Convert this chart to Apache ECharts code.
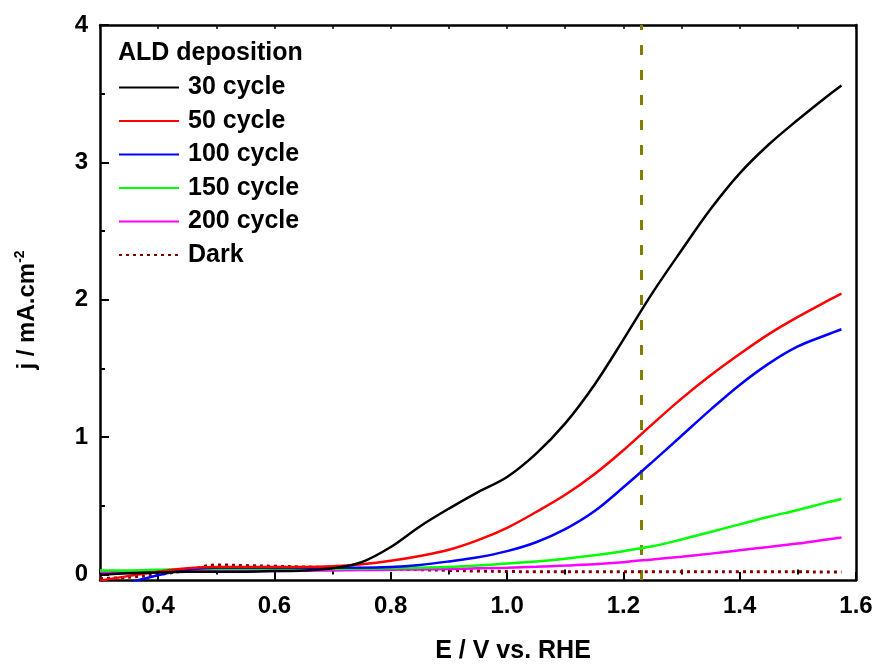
<!DOCTYPE html>
<html>
<head>
<meta charset="utf-8">
<script src="https://cdn.jsdelivr.net/npm/echarts@6/dist/echarts.min.js"></script>
<style>html,body{margin:0;padding:0;background:#fff;}#c{width:878px;height:666px;}</style>
</head>
<body>
<div id="c"></div>
<script>
const potential = [0.30,0.35,0.40,0.45,0.50,0.55,0.60,0.65,0.70,0.75,0.80,0.85,0.90,0.95,1.00,1.05,1.10,1.15,1.20,1.25,1.30,1.35,1.40,1.45,1.50,1.55,1.575];
const cycle30  = [0.00,0.01,0.015,0.02,0.02,0.02,0.025,0.03,0.045,0.09,0.20,0.35,0.48,0.60,0.71,0.88,1.10,1.38,1.71,2.05,2.36,2.66,2.92,3.13,3.31,3.48,3.56];
const cycle50  = [-0.045,-0.01,0.02,0.045,0.055,0.055,0.055,0.055,0.06,0.075,0.10,0.135,0.18,0.25,0.34,0.455,0.58,0.73,0.905,1.095,1.28,1.45,1.605,1.75,1.875,1.99,2.045];
const cycle100 = [-0.12,-0.06,-0.005,0.035,0.05,0.05,0.05,0.05,0.05,0.05,0.055,0.07,0.095,0.125,0.17,0.235,0.33,0.46,0.635,0.82,1.01,1.20,1.38,1.535,1.66,1.745,1.785];
const cycle150 = [0.03,0.03,0.035,0.04,0.04,0.04,0.04,0.04,0.04,0.042,0.045,0.05,0.055,0.065,0.08,0.095,0.115,0.14,0.17,0.205,0.255,0.31,0.365,0.42,0.47,0.525,0.55];
const cycle200 = [0.02,0.02,0.02,0.022,0.024,0.025,0.026,0.028,0.03,0.032,0.035,0.037,0.04,0.045,0.05,0.057,0.065,0.075,0.09,0.11,0.13,0.152,0.177,0.20,0.225,0.255,0.27];
const dark     = [-0.03,-0.02,0.0,0.03,0.07,0.065,0.06,0.055,0.05,0.045,0.04,0.035,0.03,0.025,0.022,0.02,0.02,0.02,0.02,0.02,0.02,0.02,0.02,0.02,0.02,0.018,0.018];
const seriesNames = ['30 cycle','50 cycle','100 cycle','150 cycle','200 cycle','Dark'];
const seriesColors = ['#000000','#ff0000','#0000ff','#00ff00','#ff00ff','#800000'];
const xMajorTicks = [0.4,0.6,0.8,1.0,1.2,1.4,1.6];
const xMinorTicks = [0.3,0.5,0.7,0.9,1.1,1.3,1.5];
const yMajorTicks = [0,1,2,3,4];
const yMinorTicks = [0.5,1.5,2.5,3.5];
const refPotential = 1.23;

const FONT = 'Liberation Sans, Arial, sans-serif';
const allSeries = [cycle30, cycle50, cycle100, cycle150, cycle200, dark];
const chart = echarts.init(document.getElementById('c'), null, {renderer:'canvas'});

const series = allSeries.map((vals, i) => {
  const s = {
    name: seriesNames[i],
    type: 'line',
    xAxisIndex: 0, yAxisIndex: 0,
    data: potential.map((x, k) => [x, vals[k]]),
    symbol: 'none',
    smooth: 0.35,
    clip: true,
    lineStyle: {color: seriesColors[i], width: i === 5 ? 3 : 2.5, type: i === 5 ? [3, 4] : 'solid'},
    itemStyle: {color: seriesColors[i]},
    z: 10 - i
  };
  if (i === 0) {
    s.markLine = {
      silent: true, symbol: 'none', label: {show: false},
      lineStyle: {color: '#808000', width: 3, type: [10, 15]},
      data: [{xAxis: refPotential}]
    };
  }
  return s;
});

const xBase = {type:'value', min:0.3, max:1.6, gridIndex:0, splitLine:{show:false}};
const yBase = {type:'value', min:-0.04, max:4, gridIndex:0, splitLine:{show:false}};
const axisLine = {show:true, onZero:false, lineStyle:{color:'#000', width:2.5}};

chart.setOption({
  animation: false,
  backgroundColor: '#fff',
  grid: {left:100, right:22, top:25, bottom:86, containLabel:false},
  xAxis: [
    Object.assign({}, xBase, {position:'bottom', axisLine: axisLine,
      axisTick:{show:true, inside:true, length:8, customValues: xMajorTicks, lineStyle:{color:'#000', width:2}},
      axisLabel:{show:true, customValues: xMajorTicks, margin:14, color:'#000', fontFamily:FONT, fontWeight:'bold', fontSize:24,
        formatter: v => v.toFixed(1)}}),
    Object.assign({}, xBase, {position:'bottom', axisLine:{show:false},
      axisTick:{show:true, inside:true, length:5, customValues: xMinorTicks, lineStyle:{color:'#000', width:2}},
      axisLabel:{show:false}}),
    Object.assign({}, xBase, {position:'top', axisLine: axisLine,
      axisTick:{show:true, inside:true, length:4, customValues: xMajorTicks.concat(xMinorTicks), lineStyle:{color:'#000', width:1.5}},
      axisLabel:{show:false}})
  ],
  yAxis: [
    Object.assign({}, yBase, {position:'left', axisLine: axisLine,
      axisTick:{show:true, inside:true, length:9, customValues: yMajorTicks, lineStyle:{color:'#000', width:2}},
      axisLabel:{show:true, customValues: yMajorTicks, margin:12, color:'#000', fontFamily:FONT, fontWeight:'bold', fontSize:24}}),
    Object.assign({}, yBase, {position:'left', axisLine:{show:false},
      axisTick:{show:true, inside:true, length:5, customValues: yMinorTicks, lineStyle:{color:'#000', width:2}},
      axisLabel:{show:false}}),
    Object.assign({}, yBase, {position:'right', axisLine: axisLine, axisTick:{show:false}, axisLabel:{show:false}})
  ],
  legend: {
    show: true, orient: 'vertical', left: 118, top: 75, padding: 0,
    data: seriesNames, itemWidth: 60, itemHeight: 14, itemGap: 8.5,
    itemStyle: {opacity: 0},
    textStyle: {color:'#000', fontFamily:FONT, fontWeight:'bold', fontSize:25, lineHeight:24, padding:[0,0,0,4]},
    selectedMode: false
  },
  graphic: [
    {type:'text', left:118, top:41, style:{text:'ALD deposition', fill:'#000', font:'bold 25px ' + FONT}},
    {type:'text', x:513, y:651, style:{text:'E / V vs. RHE', fill:'#000', font:'bold 25px ' + FONT, align:'center', verticalAlign:'middle'}},
    {type:'text', x:27, y:310, rotation: Math.PI/2,
      style:{text:'j / mA.cm{sup|-2}', fill:'#000', font:'bold 24px ' + FONT, align:'center', verticalAlign:'middle',
        rich:{sup:{fontFamily:FONT, fontWeight:'bold', fontSize:14, fill:'#000', verticalAlign:'top', padding:[0,0,14,0]}}}}
  ],
  series: series
});
</script>
</body>
</html>
